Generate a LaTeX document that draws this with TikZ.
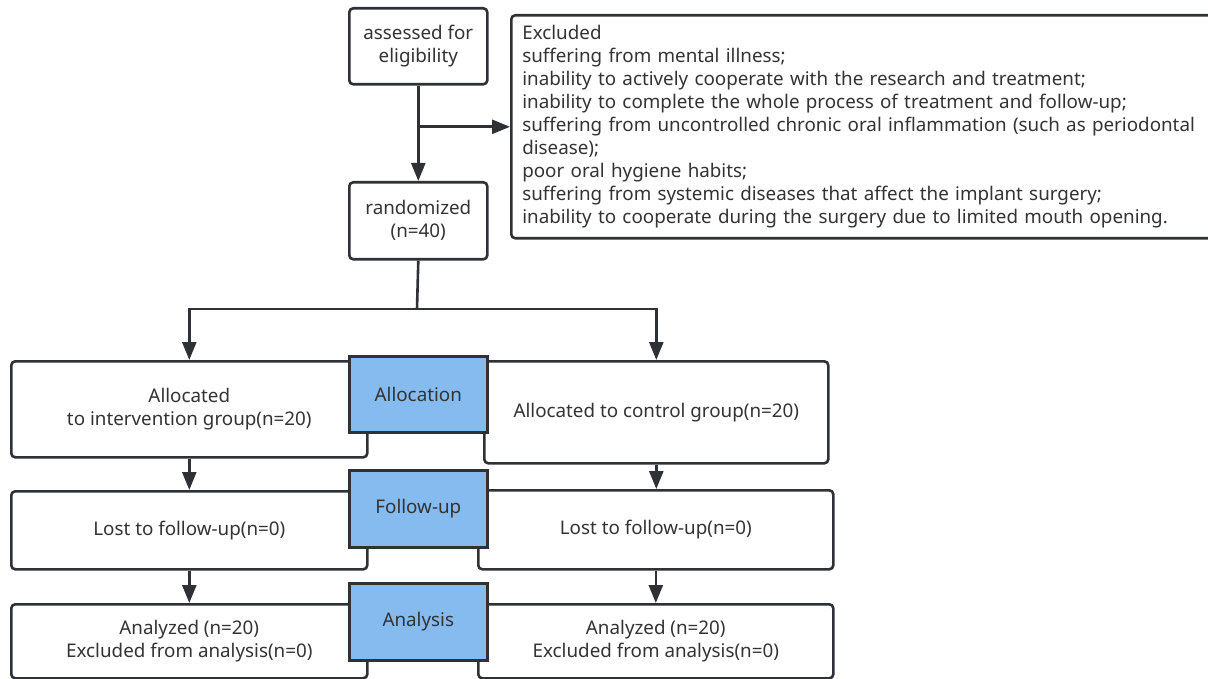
\documentclass[tikz,border=0pt]{standalone}
\usepackage{fontspec}
\setmainfont{Noto Sans}
\usetikzlibrary{arrows.meta,calc}
\definecolor{linec}{HTML}{2E3236}
\definecolor{txtc}{HTML}{333333}
\definecolor{bluef}{HTML}{85BBEF}
\tikzset{
  x=1pt,y=-1pt,
  every node/.style={font=\fontsize{18.8}{23}\selectfont, text=txtc},
  wbox/.style={draw=linec, line width=2.6pt, rounded corners=4pt, fill=white, align=center, inner sep=0pt, anchor=north west},
  bbox/.style={draw=linec, line width=2.6pt, fill=bluef, align=center, inner sep=0pt, anchor=north west, minimum width=138, minimum height=76},
  conn/.style={draw=linec, line width=2.6pt},
  arr/.style={conn, -{Triangle[length=18pt,width=14pt]}},
}
\begin{document}
\begin{tikzpicture}
\useasboundingbox (0,0) rectangle (1208,679);
% top
\node[wbox, minimum width=138, minimum height=76] (assess) at (348,7) {assessed for\\eligibility};
\node[wbox, minimum width=138, minimum height=77] (rand) at (348,181) {randomized\\(n=40)};
\node[wbox, minimum height=223, align=left, inner xsep=11pt, text width=690] (excl) at (510,14) {Excluded\\
suffering from mental illness;\\
inability to actively cooperate with the research and treatment;\\
inability to complete the whole process of treatment and follow-up;\\
suffering from uncontrolled chronic oral inflammation (such as periodontal\\
disease);\\
poor oral hygiene habits;\\
suffering from systemic diseases that affect the implant surgery;\\
inability to cooperate during the surgery due to limited mouth opening.};
\draw[arr] (assess.south) -- (rand.north);
\coordinate (br) at (assess.south |- excl.west);
\draw[arr] (br) -- (excl.west);
% rows
\node[wbox, minimum width=356, minimum height=96] (al) at (10,360) {Allocated\\to intervention group(n=20)};
\node[wbox, minimum width=344, minimum height=102] (ar) at (483,360) {Allocated to control group(n=20)};
\node[wbox, minimum width=356, minimum height=78] (fl) at (10,490) {Lost to follow-up(n=0)};
\node[wbox, minimum width=355, minimum height=79] (fr) at (477,489) {Lost to follow-up(n=0)};
\node[wbox, minimum width=356, minimum height=74] (nl) at (10,603) {Analyzed (n=20)\\Excluded from analysis(n=0)};
\node[wbox, minimum width=355, minimum height=74] (nr) at (477,603) {Analyzed (n=20)\\Excluded from analysis(n=0)};
\coordinate (sp) at (417,309);
\draw[conn] (rand.south) -- (sp);
\draw[arr] (sp) -| (al.north);
\draw[arr] (sp) -| (ar.north);
\draw[arr] (al.south) -- (al.south |- fl.north);
\draw[arr] (ar.south) -- (ar.south |- fr.north);
\draw[arr] (fl.south) -- (fl.south |- nl.north);
\draw[arr] (fr.south) -- (fr.south |- nr.north);
% blue labels
\node[bbox] (lalloc) at (348,355) {Allocation};
\node[bbox, minimum height=77] (lfollow) at (348,469) {Follow-up};
\node[bbox, minimum height=77] (lanal) at (348,582) {Analysis};
\end{tikzpicture}
\end{document}
